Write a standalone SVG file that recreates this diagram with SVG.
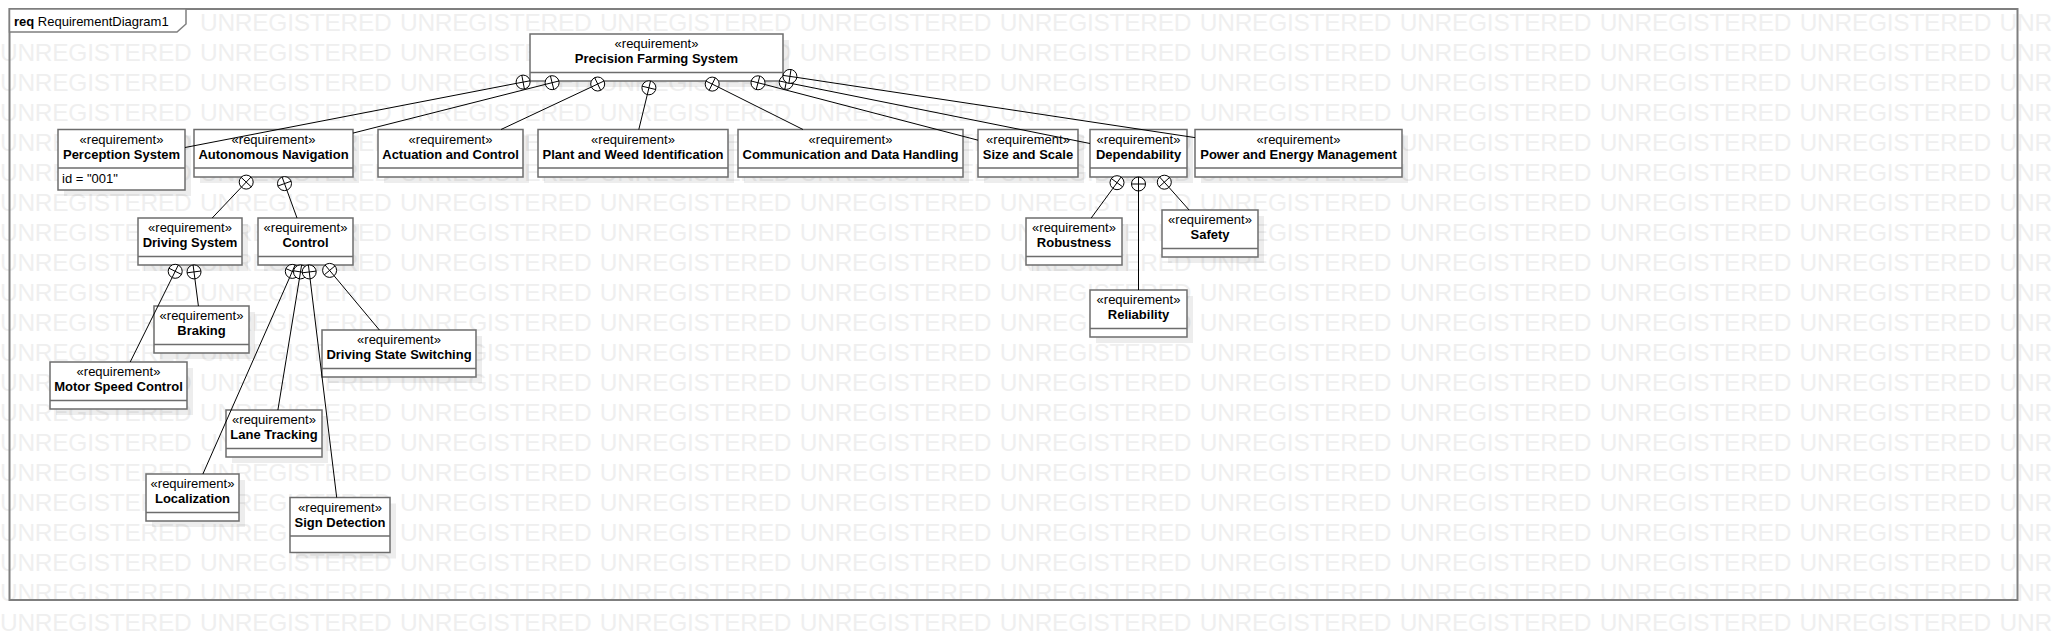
<svg xmlns="http://www.w3.org/2000/svg" width="2058" height="641" viewBox="0 0 2058 641">
<style>
.wm{font-family:"Liberation Sans",Arial,sans-serif;font-size:24.5px;fill:#efefef;letter-spacing:-0.27px;word-spacing:2px}
.st{font-family:"Liberation Sans",Arial,sans-serif;font-size:13px;fill:#000;text-anchor:middle}
.nm{font-family:"Liberation Sans",Arial,sans-serif;font-size:13px;font-weight:bold;fill:#000;text-anchor:middle}
.at{font-family:"Liberation Sans",Arial,sans-serif;font-size:13px;fill:#000}
.bx{fill:#fff;stroke:#6d6d6d;stroke-width:1.5}
.dv{stroke:#6d6d6d;stroke-width:1.5}
.sh{fill:#000;fill-opacity:0.07}
.fr{fill:none;stroke:#7f7f7f;stroke-width:2}
.cn line{stroke:#000;stroke-width:1}
.cn circle{fill:#fff;stroke:#000;stroke-width:1}
</style>
<rect width="2058" height="641" fill="#fff"/>
<g id="watermark">
<text class="wm" x="200" y="30.7">UNREGISTERED UNREGISTERED UNREGISTERED UNREGISTERED UNREGISTERED UNREGISTERED UNREGISTERED UNREGISTERED UNREGISTERED UNR</text>
<text class="wm" x="0" y="60.7">UNREGISTERED UNREGISTERED UNREGISTERED UNREGISTERED UNREGISTERED UNREGISTERED UNREGISTERED UNREGISTERED UNREGISTERED UNREGISTERED UNR</text>
<text class="wm" x="0" y="90.7">UNREGISTERED UNREGISTERED UNREGISTERED UNREGISTERED UNREGISTERED UNREGISTERED UNREGISTERED UNREGISTERED UNREGISTERED UNREGISTERED UNR</text>
<text class="wm" x="0" y="120.7">UNREGISTERED UNREGISTERED UNREGISTERED UNREGISTERED UNREGISTERED UNREGISTERED UNREGISTERED UNREGISTERED UNREGISTERED UNREGISTERED UNR</text>
<text class="wm" x="0" y="150.7">UNREGISTERED UNREGISTERED UNREGISTERED UNREGISTERED UNREGISTERED UNREGISTERED UNREGISTERED UNREGISTERED UNREGISTERED UNREGISTERED UNR</text>
<text class="wm" x="0" y="180.7">UNREGISTERED UNREGISTERED UNREGISTERED UNREGISTERED UNREGISTERED UNREGISTERED UNREGISTERED UNREGISTERED UNREGISTERED UNREGISTERED UNR</text>
<text class="wm" x="0" y="210.7">UNREGISTERED UNREGISTERED UNREGISTERED UNREGISTERED UNREGISTERED UNREGISTERED UNREGISTERED UNREGISTERED UNREGISTERED UNREGISTERED UNR</text>
<text class="wm" x="0" y="240.7">UNREGISTERED UNREGISTERED UNREGISTERED UNREGISTERED UNREGISTERED UNREGISTERED UNREGISTERED UNREGISTERED UNREGISTERED UNREGISTERED UNR</text>
<text class="wm" x="0" y="270.7">UNREGISTERED UNREGISTERED UNREGISTERED UNREGISTERED UNREGISTERED UNREGISTERED UNREGISTERED UNREGISTERED UNREGISTERED UNREGISTERED UNR</text>
<text class="wm" x="0" y="300.7">UNREGISTERED UNREGISTERED UNREGISTERED UNREGISTERED UNREGISTERED UNREGISTERED UNREGISTERED UNREGISTERED UNREGISTERED UNREGISTERED UNR</text>
<text class="wm" x="0" y="330.7">UNREGISTERED UNREGISTERED UNREGISTERED UNREGISTERED UNREGISTERED UNREGISTERED UNREGISTERED UNREGISTERED UNREGISTERED UNREGISTERED UNR</text>
<text class="wm" x="0" y="360.7">UNREGISTERED UNREGISTERED UNREGISTERED UNREGISTERED UNREGISTERED UNREGISTERED UNREGISTERED UNREGISTERED UNREGISTERED UNREGISTERED UNR</text>
<text class="wm" x="0" y="390.7">UNREGISTERED UNREGISTERED UNREGISTERED UNREGISTERED UNREGISTERED UNREGISTERED UNREGISTERED UNREGISTERED UNREGISTERED UNREGISTERED UNR</text>
<text class="wm" x="0" y="420.7">UNREGISTERED UNREGISTERED UNREGISTERED UNREGISTERED UNREGISTERED UNREGISTERED UNREGISTERED UNREGISTERED UNREGISTERED UNREGISTERED UNR</text>
<text class="wm" x="0" y="450.7">UNREGISTERED UNREGISTERED UNREGISTERED UNREGISTERED UNREGISTERED UNREGISTERED UNREGISTERED UNREGISTERED UNREGISTERED UNREGISTERED UNR</text>
<text class="wm" x="0" y="480.7">UNREGISTERED UNREGISTERED UNREGISTERED UNREGISTERED UNREGISTERED UNREGISTERED UNREGISTERED UNREGISTERED UNREGISTERED UNREGISTERED UNR</text>
<text class="wm" x="0" y="510.7">UNREGISTERED UNREGISTERED UNREGISTERED UNREGISTERED UNREGISTERED UNREGISTERED UNREGISTERED UNREGISTERED UNREGISTERED UNREGISTERED UNR</text>
<text class="wm" x="0" y="540.7">UNREGISTERED UNREGISTERED UNREGISTERED UNREGISTERED UNREGISTERED UNREGISTERED UNREGISTERED UNREGISTERED UNREGISTERED UNREGISTERED UNR</text>
<text class="wm" x="0" y="570.7">UNREGISTERED UNREGISTERED UNREGISTERED UNREGISTERED UNREGISTERED UNREGISTERED UNREGISTERED UNREGISTERED UNREGISTERED UNREGISTERED UNR</text>
<text class="wm" x="0" y="600.7">UNREGISTERED UNREGISTERED UNREGISTERED UNREGISTERED UNREGISTERED UNREGISTERED UNREGISTERED UNREGISTERED UNREGISTERED UNREGISTERED UNR</text>
<text class="wm" x="0" y="630.7">UNREGISTERED UNREGISTERED UNREGISTERED UNREGISTERED UNREGISTERED UNREGISTERED UNREGISTERED UNREGISTERED UNREGISTERED UNREGISTERED UNR</text>
</g>
<g id="frame">
<rect class="fr" x="9.5" y="9" width="2008" height="591"/>
<path d="M9.5,9 H186 V24 L177,32 H9.5 Z" fill="#fff" stroke="#7f7f7f" stroke-width="1.5"/>
<text class="at" x="14" y="25.5"><tspan font-weight="bold">req</tspan> RequirementDiagram1</text>
</g>
<g id="n-pfs">
<rect class="sh" x="536" y="40" width="253" height="47"/>
<rect class="bx" x="530" y="34" width="253" height="47"/>
<line class="dv" x1="530" y1="72.5" x2="783" y2="72.5"/>
<text class="st" x="656.5" y="48.3">«requirement»</text>
<text class="nm" x="656.5" y="63.3">Precision Farming System</text>
</g>
<g id="n-perception">
<rect class="sh" x="64" y="135.5" width="127" height="60.5"/>
<rect class="bx" x="58" y="129.5" width="127" height="60.5"/>
<line class="dv" x1="58" y1="168" x2="185" y2="168"/>
<text class="st" x="121.5" y="143.8">«requirement»</text>
<text class="nm" x="121.5" y="158.8">Perception System</text>
<text class="at" x="62" y="182.5">id = "001"</text>
</g>
<g id="n-autonav">
<rect class="sh" x="200" y="135.5" width="159" height="47.5"/>
<rect class="bx" x="194" y="129.5" width="159" height="47.5"/>
<line class="dv" x1="194" y1="168" x2="353" y2="168"/>
<text class="st" x="273.5" y="143.8">«requirement»</text>
<text class="nm" x="273.5" y="158.8">Autonomous Navigation</text>
</g>
<g id="n-actuation">
<rect class="sh" x="384" y="135.5" width="145" height="47.5"/>
<rect class="bx" x="378" y="129.5" width="145" height="47.5"/>
<line class="dv" x1="378" y1="168" x2="523" y2="168"/>
<text class="st" x="450.5" y="143.8">«requirement»</text>
<text class="nm" x="450.5" y="158.8">Actuation and Control</text>
</g>
<g id="n-plant">
<rect class="sh" x="544" y="135.5" width="190" height="47.5"/>
<rect class="bx" x="538" y="129.5" width="190" height="47.5"/>
<line class="dv" x1="538" y1="168" x2="728" y2="168"/>
<text class="st" x="633" y="143.8">«requirement»</text>
<text class="nm" x="633" y="158.8">Plant and Weed Identification</text>
</g>
<g id="n-comm">
<rect class="sh" x="744" y="135.5" width="225" height="47.5"/>
<rect class="bx" x="738" y="129.5" width="225" height="47.5"/>
<line class="dv" x1="738" y1="168" x2="963" y2="168"/>
<text class="st" x="850.5" y="143.8">«requirement»</text>
<text class="nm" x="850.5" y="158.8">Communication and Data Handling</text>
</g>
<g id="n-size">
<rect class="sh" x="984" y="135.5" width="100" height="47.5"/>
<rect class="bx" x="978" y="129.5" width="100" height="47.5"/>
<line class="dv" x1="978" y1="168" x2="1078" y2="168"/>
<text class="st" x="1028" y="143.8">«requirement»</text>
<text class="nm" x="1028" y="158.8">Size and Scale</text>
</g>
<g id="n-dependability">
<rect class="sh" x="1096" y="135.5" width="97" height="47.5"/>
<rect class="bx" x="1090" y="129.5" width="97" height="47.5"/>
<line class="dv" x1="1090" y1="168" x2="1187" y2="168"/>
<text class="st" x="1138.5" y="143.8">«requirement»</text>
<text class="nm" x="1138.5" y="158.8">Dependability</text>
</g>
<g id="n-power">
<rect class="sh" x="1201" y="135.5" width="207" height="47.5"/>
<rect class="bx" x="1195" y="129.5" width="207" height="47.5"/>
<line class="dv" x1="1195" y1="168" x2="1402" y2="168"/>
<text class="st" x="1298.5" y="143.8">«requirement»</text>
<text class="nm" x="1298.5" y="158.8">Power and Energy Management</text>
</g>
<g id="n-driving">
<rect class="sh" x="144" y="224" width="104" height="47"/>
<rect class="bx" x="138" y="218" width="104" height="47"/>
<line class="dv" x1="138" y1="256.5" x2="242" y2="256.5"/>
<text class="st" x="190" y="232.3">«requirement»</text>
<text class="nm" x="190" y="247.3">Driving System</text>
</g>
<g id="n-control">
<rect class="sh" x="264" y="224" width="95" height="47"/>
<rect class="bx" x="258" y="218" width="95" height="47"/>
<line class="dv" x1="258" y1="256.5" x2="353" y2="256.5"/>
<text class="st" x="305.5" y="232.3">«requirement»</text>
<text class="nm" x="305.5" y="247.3">Control</text>
</g>
<g id="n-braking">
<rect class="sh" x="160" y="312" width="95" height="47"/>
<rect class="bx" x="154" y="306" width="95" height="47"/>
<line class="dv" x1="154" y1="344.5" x2="249" y2="344.5"/>
<text class="st" x="201.5" y="320.3">«requirement»</text>
<text class="nm" x="201.5" y="335.3">Braking</text>
</g>
<g id="n-motor">
<rect class="sh" x="56" y="368" width="137" height="47"/>
<rect class="bx" x="50" y="362" width="137" height="47"/>
<line class="dv" x1="50" y1="400.5" x2="187" y2="400.5"/>
<text class="st" x="118.5" y="376.3">«requirement»</text>
<text class="nm" x="118.5" y="391.3">Motor Speed Control</text>
</g>
<g id="n-dss">
<rect class="sh" x="328" y="336" width="154" height="47"/>
<rect class="bx" x="322" y="330" width="154" height="47"/>
<line class="dv" x1="322" y1="368.5" x2="476" y2="368.5"/>
<text class="st" x="399" y="344.3">«requirement»</text>
<text class="nm" x="399" y="359.3">Driving State Switching</text>
</g>
<g id="n-lane">
<rect class="sh" x="232" y="416" width="96" height="47"/>
<rect class="bx" x="226" y="410" width="96" height="47"/>
<line class="dv" x1="226" y1="448.5" x2="322" y2="448.5"/>
<text class="st" x="274" y="424.3">«requirement»</text>
<text class="nm" x="274" y="439.3">Lane Tracking</text>
</g>
<g id="n-localization">
<rect class="sh" x="152" y="480" width="93" height="47"/>
<rect class="bx" x="146" y="474" width="93" height="47"/>
<line class="dv" x1="146" y1="512.5" x2="239" y2="512.5"/>
<text class="st" x="192.5" y="488.3">«requirement»</text>
<text class="nm" x="192.5" y="503.3">Localization</text>
</g>
<g id="n-sign">
<rect class="sh" x="296" y="503.5" width="100" height="55"/>
<rect class="bx" x="290" y="497.5" width="100" height="55"/>
<line class="dv" x1="290" y1="536" x2="390" y2="536"/>
<text class="st" x="340" y="511.8">«requirement»</text>
<text class="nm" x="340" y="526.8">Sign Detection</text>
</g>
<g id="n-robustness">
<rect class="sh" x="1032" y="224" width="96" height="47"/>
<rect class="bx" x="1026" y="218" width="96" height="47"/>
<line class="dv" x1="1026" y1="256.5" x2="1122" y2="256.5"/>
<text class="st" x="1074" y="232.3">«requirement»</text>
<text class="nm" x="1074" y="247.3">Robustness</text>
</g>
<g id="n-safety">
<rect class="sh" x="1168" y="216" width="96" height="47"/>
<rect class="bx" x="1162" y="210" width="96" height="47"/>
<line class="dv" x1="1162" y1="248.5" x2="1258" y2="248.5"/>
<text class="st" x="1210" y="224.3">«requirement»</text>
<text class="nm" x="1210" y="239.3">Safety</text>
</g>
<g id="n-reliability">
<rect class="sh" x="1096" y="296" width="97" height="47"/>
<rect class="bx" x="1090" y="290" width="97" height="47"/>
<line class="dv" x1="1090" y1="328.5" x2="1187" y2="328.5"/>
<text class="st" x="1138.5" y="304.3">«requirement»</text>
<text class="nm" x="1138.5" y="319.3">Reliability</text>
</g>
<g id="connectors" class="cn">
<g id="c-perception"><line x1="185" y1="147.5" x2="516.2" y2="83.4"/><circle cx="523.1" cy="82.1" r="7"/><line x1="516.2" y1="83.4" x2="530" y2="80.8"/><line x1="521.8" y1="75.2" x2="524.4" y2="89"/></g>
<g id="c-autonav"><line x1="353" y1="133.1" x2="545.3" y2="84.4"/><circle cx="552.1" cy="82.7" r="7"/><line x1="545.3" y1="84.4" x2="558.9" y2="81"/><line x1="550.4" y1="75.9" x2="553.8" y2="89.5"/></g>
<g id="c-actuation"><line x1="501" y1="129.5" x2="591.4" y2="87"/><circle cx="597.7" cy="84" r="7"/><line x1="591.4" y1="87" x2="604" y2="81"/><line x1="594.7" y1="77.7" x2="600.7" y2="90.3"/></g>
<g id="c-plant"><line x1="638.8" y1="129.5" x2="647.3" y2="94.6"/><circle cx="648.9" cy="87.8" r="7"/><line x1="647.3" y1="94.6" x2="650.5" y2="81"/><line x1="642.1" y1="86.2" x2="655.7" y2="89.5"/></g>
<g id="c-comm"><line x1="803" y1="129.5" x2="718.5" y2="87.2"/><circle cx="712.2" cy="84.1" r="7"/><line x1="705.9" y1="81" x2="718.5" y2="87.2"/><line x1="709.1" y1="90.4" x2="715.3" y2="77.8"/></g>
<g id="c-size"><line x1="978" y1="140.2" x2="764.8" y2="84.5"/><circle cx="758" cy="82.8" r="7"/><line x1="751.2" y1="81" x2="764.8" y2="84.5"/><line x1="756.2" y1="89.6" x2="759.8" y2="76"/></g>
<g id="c-dependability"><line x1="1090" y1="143.5" x2="793.1" y2="83.8"/><circle cx="786.2" cy="82.4" r="7"/><line x1="779.3" y1="81" x2="793.1" y2="83.8"/><line x1="784.8" y1="89.3" x2="787.6" y2="75.5"/></g>
<g id="c-power"><line x1="1195" y1="137.6" x2="796.8" y2="77.4"/><circle cx="789.9" cy="76.4" r="7"/><line x1="783" y1="75.4" x2="796.8" y2="77.4"/><line x1="788.9" y1="83.3" x2="791" y2="69.5"/></g>
<g id="c-driving"><line x1="212.2" y1="218" x2="241.4" y2="187.2"/><circle cx="246.2" cy="182.1" r="7"/><line x1="241.4" y1="187.2" x2="251" y2="177"/><line x1="241.1" y1="177.3" x2="251.3" y2="186.9"/></g>
<g id="c-control"><line x1="297" y1="218" x2="286.9" y2="190.2"/><circle cx="284.5" cy="183.6" r="7"/><line x1="282.1" y1="177" x2="286.9" y2="190.2"/><line x1="277.9" y1="186" x2="291.1" y2="181.2"/></g>
<g id="c-motor"><line x1="130.2" y1="362" x2="172.1" y2="277.6"/><circle cx="175.2" cy="271.3" r="7"/><line x1="172.1" y1="277.6" x2="178.3" y2="265"/><line x1="168.9" y1="268.2" x2="181.5" y2="274.4"/></g>
<g id="c-braking"><line x1="198.4" y1="306" x2="194.9" y2="278.8"/><circle cx="194" cy="271.9" r="7"/><line x1="193.1" y1="265" x2="194.9" y2="278.8"/><line x1="187.1" y1="272.8" x2="200.9" y2="271"/></g>
<g id="c-localization"><line x1="202.9" y1="474" x2="289.5" y2="277.8"/><circle cx="292.3" cy="271.4" r="7"/><line x1="289.5" y1="277.8" x2="295.1" y2="265"/><line x1="285.9" y1="268.6" x2="298.7" y2="274.2"/></g>
<g id="c-lane"><line x1="277.9" y1="410" x2="299.4" y2="278.8"/><circle cx="300.5" cy="271.9" r="7"/><line x1="299.4" y1="278.8" x2="301.6" y2="265"/><line x1="293.6" y1="270.8" x2="307.4" y2="273"/></g>
<g id="c-sign"><line x1="336.7" y1="497.5" x2="310.1" y2="278.9"/><circle cx="309.2" cy="271.9" r="7"/><line x1="308.4" y1="265" x2="310.1" y2="278.9"/><line x1="302.3" y1="272.8" x2="316.1" y2="271.1"/></g>
<g id="c-dss"><line x1="379.4" y1="330" x2="334.1" y2="275.8"/><circle cx="329.6" cy="270.4" r="7"/><line x1="325.1" y1="265" x2="334.1" y2="275.8"/><line x1="324.2" y1="274.9" x2="335" y2="265.9"/></g>
<g id="c-robustness"><line x1="1091.2" y1="218" x2="1112.9" y2="188.4"/><circle cx="1117" cy="182.7" r="7"/><line x1="1112.9" y1="188.4" x2="1121.1" y2="177"/><line x1="1111.4" y1="178.6" x2="1122.7" y2="186.8"/></g>
<g id="c-reliability"><line x1="1138.5" y1="290" x2="1138.5" y2="191"/><circle cx="1138.5" cy="184" r="7"/><line x1="1138.5" y1="177" x2="1138.5" y2="191"/><line x1="1131.5" y1="184" x2="1145.5" y2="184"/></g>
<g id="c-safety"><line x1="1189.1" y1="210" x2="1169" y2="187.4"/><circle cx="1164.3" cy="182.2" r="7"/><line x1="1159.6" y1="177" x2="1169" y2="187.4"/><line x1="1159.1" y1="186.9" x2="1169.5" y2="177.5"/></g>
</g>
</svg>
